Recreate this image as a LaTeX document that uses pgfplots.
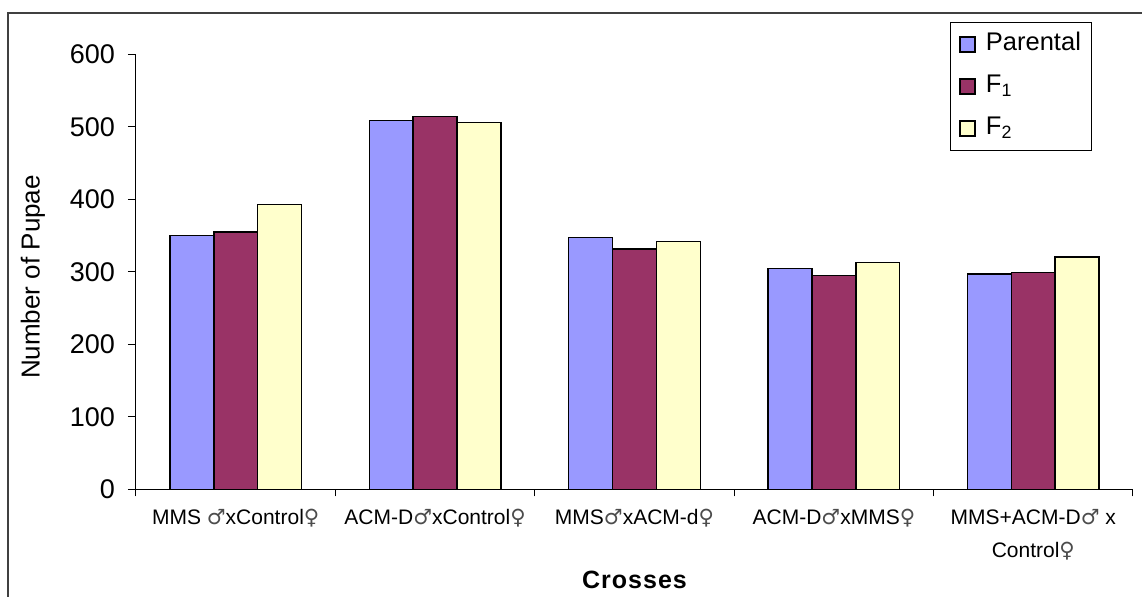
\documentclass[border=0pt]{standalone}
\usepackage{pgfplots}
\pgfplotsset{compat=1.18}
\usepackage{fontspec}
\setmainfont{Liberation Sans}
\newfontfamily\symfont{DejaVu Sans}
\newcommand{\ma}{{\symfont\color{black!70}♂}}
\newcommand{\fe}{{\symfont\color{black!70}♀}}
\definecolor{cP}{HTML}{9999FF}
\definecolor{cFa}{HTML}{993366}
\definecolor{cFb}{HTML}{FFFFCC}
\begin{document}
\begin{tikzpicture}
\useasboundingbox (-68pt,-53.85pt) rectangle (503pt,244.65pt);
\draw[line width=0.9pt, black!75] (-64pt,-70pt) -- (-64pt,238.15pt) -- (520pt,238.15pt);
\begin{axis}[
  scale only axis, width=498.5pt, height=217.5pt,
  xmin=-0.5, xmax=4.5, ymin=0, ymax=600,
  axis x line*=bottom, axis y line*=left,
  axis line style={black, line width=0.5pt},
  tick align=outside,
  major tick length=4pt, minor tick length=3.5pt,
  every tick/.style={black, line width=0.5pt},
  ytick={0,100,...,600},
  /pgf/number format/assume math mode=true,
  yticklabel style={font=\fontsize{13.5}{16}\selectfont, xshift=-3pt},
  xtick={0,1,2,3,4},
  xticklabels={MMS \ma xControl\fe, ACM-D\ma xControl\fe, MMS\ma xACM-d\fe, ACM-D\ma xMMS\fe, {MMS+ACM-D\ma\ x\\Control\fe}},
  major x tick style={draw=none},
  minor xtick={-0.5,0.5,...,4.5},
  xticklabel style={font=\fontsize{10.5}{16.5}\selectfont, align=center, yshift=-2.5pt},
  ylabel={Number of Pupae},
  ylabel style={at={(axis description cs:-0.1033,0.488)}, anchor=center, font=\fontsize{13}{15}\selectfont},
  xlabel={Crosses},
  xlabel style={at={(axis description cs:0.5,-0.209)}, anchor=center, font=\bfseries\fontsize{12.5}{15}\selectfont\addfontfeatures{LetterSpace=4}},
  legend style={at={(axis description cs:0.8164,1.0743)}, anchor=north west, draw=black, line width=0.5pt,
    font=\fontsize{12.75}{15}\selectfont, row sep=7pt,
    nodes={text height=9pt, text depth=3pt, inner sep=1pt},
    /tikz/every odd column/.append style={column sep=4pt},
    inner xsep=4.5pt, inner ysep=4pt},
  legend cell align=left,
  legend image code/.code={\draw[#1, line width=0.75pt] (0pt,-3.75pt) rectangle (7.5pt,3.75pt);},
]
\addplot[ybar, bar width=0.22, bar shift=-0.22, fill=cP, draw=black, line width=0.75pt]
  coordinates {(0,350) (1,508.4) (2,347) (3,304.8) (4,297)};
\addplot[ybar, bar width=0.22, bar shift=0, fill=cFa, draw=black, line width=0.75pt]
  coordinates {(0,355) (1,514) (2,331.4) (3,294.6) (4,298.8)};
\addplot[ybar, bar width=0.22, bar shift=0.22, fill=cFb, draw=black, line width=0.75pt]
  coordinates {(0,392.6) (1,505.6) (2,341.5) (3,313) (4,320.4)};
\legend{Parental, F\textsubscript{1}, F\textsubscript{2}}
\end{axis}
\end{tikzpicture}
\end{document}
